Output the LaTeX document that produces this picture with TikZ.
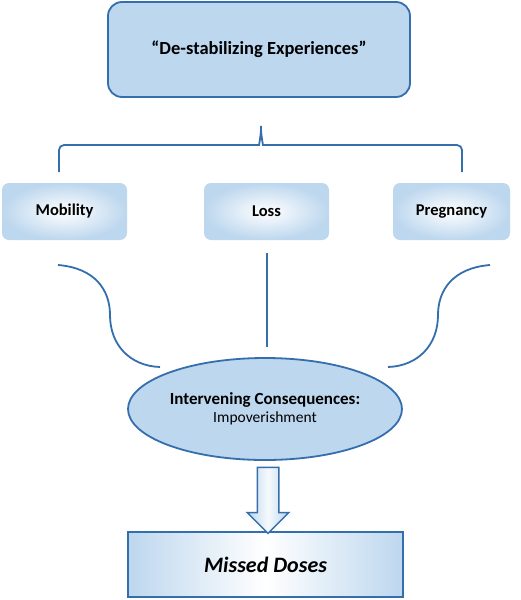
\documentclass[tikz,border=0pt]{standalone}
\usepackage{fontspec}
\setmainfont{Carlito}
\usetikzlibrary{positioning,shapes.geometric,shapes.arrows}
\definecolor{cF}{RGB}{189,215,238}
\definecolor{cL}{RGB}{52,110,172}
\tikzset{bigbox/.style={
  shape=rectangle,
  rounded corners=14pt,
  draw=cL,
  line width=1.8pt,
  fill=cF,
  minimum width=302pt,
  minimum height=95pt,
  font=\fontsize{18.5}{22}\selectfont\bfseries,
  }
}
\tikzset{softbox/.style={
  shape=rectangle,
  rounded corners=7pt,
  inner color=white,
  outer color=cF,
  minimum height=57pt,
  font=\fontsize{16.5}{19}\selectfont\bfseries,
  }
}
\tikzset{link/.style={
  draw=cL,
  line width=1.8pt,
  }
}
\begin{document}
\begin{tikzpicture}[x=1pt,y=-1pt]
  \useasboundingbox (0,0) rectangle (521,600);

  \node [bigbox] (exp) at (259,49.5) {``De-stabilizing Experiences''};

  \node [softbox, minimum width=125pt] (mob) at (64.5,211.5) {Mobility};
  \node [softbox, minimum width=125pt] (loss) at (266.5,211.5) {Loss};
  \node [softbox, minimum width=117pt] (preg) at (451.5,211.5) {Pregnancy};

  \node [ellipse, draw=cL, line width=1.8pt, fill=cF, inner sep=0pt,
         minimum width=274pt, minimum height=102pt, align=center]
        (cons) at (265,409)
        {\fontsize{17}{20}\selectfont\bfseries Intervening Consequences:\\[3pt]
         \fontsize{15.5}{19}\selectfont Impoverishment};

  \node [draw=cL, line width=1.8pt, left color=cF, right color=cF, middle color=white,
         minimum width=275pt, minimum height=65pt,
         font=\fontsize{22}{26}\selectfont\bfseries\itshape]
        (miss) at (265.5,564.5) {Missed Doses};

  \node [single arrow, draw=cL, line width=1.5pt, shape border rotate=270,
         left color=cF, right color=cF, middle color=white!85!cF,
         inner sep=10pt, minimum width=40pt, minimum height=66pt,
         single arrow head extend=10pt]
        (arr) at (268,495) {};

  \coordinate (bl) at (59,172);
  \coordinate (br) at (462,172);
  \coordinate (bt) at (261,123);
  \draw [link, rounded corners=5pt] (bl) -- (59,145) -- (254,145)
        .. controls (259,145) and (261,135) .. (bt)
        .. controls (261,135) and (263,145) .. (268,145) -- (462,145) -- (br);

  \coordinate (ml) at (58,265);
  \coordinate (el) at (160,367);
  \coordinate (lt) at (267,253);
  \coordinate (lb) at (267,347);
  \coordinate (pr) at (490,265);
  \coordinate (er) at (388,367);
  \draw [link] (ml) .. controls (95,268) and (110,290) .. (110,315)
        .. controls (110,345) and (130,366) .. (el);
  \draw [link] (lt) -- (lb);
  \draw [link] (pr) .. controls (453,268) and (438,290) .. (438,315)
        .. controls (438,345) and (418,366) .. (er);
\end{tikzpicture}
\end{document}
